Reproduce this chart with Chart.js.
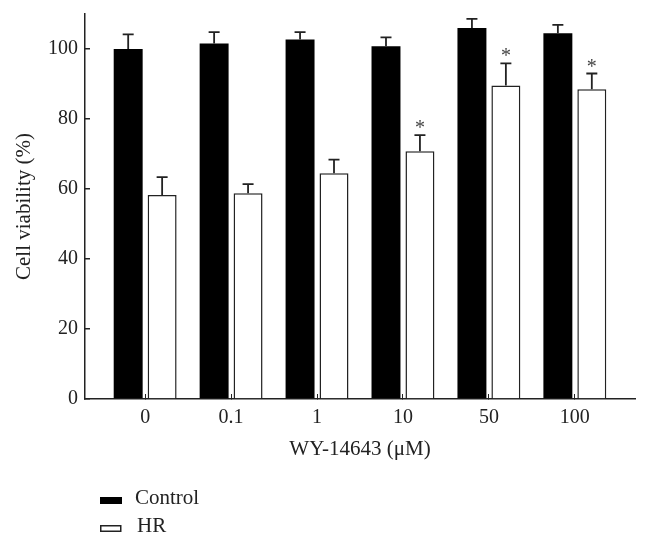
<!DOCTYPE html>
<html>
<head>
<meta charset="utf-8">
<script src="https://cdn.jsdelivr.net/npm/chart.js@4.4.0/dist/chart.umd.min.js"></script>
<style>
html,body{margin:0;padding:0;background:#fff;}
#wrap{width:649px;height:546px;position:relative;}
</style>
</head>
<body>
<div id="wrap"><canvas id="c" width="649" height="546"></canvas></div>
<script>
// ---- data ----
const categories = ['0', '0.1', '1', '10', '50', '100'];
const seriesNames = ['Control', 'HR'];
const controlValues = [100.0, 101.6, 102.7, 100.8, 106.0, 104.5];
const controlErrors = [4.2, 3.2, 2.1, 2.5, 2.6, 2.4];
const hrValues = [58.3, 58.8, 64.5, 70.8, 89.6, 88.5];
const hrErrors = [5.1, 2.6, 3.9, 4.6, 6.3, 4.5];
const hrSignificant = [false, false, false, true, true, true];
const yTickValues = [0, 20, 40, 60, 80, 100];
const xTitle = 'WY-14643 (\u03BCM)';
const yTitle = 'Cell viability (%)';

const FONT = "'Liberation Serif', 'Times New Roman', serif";
const INK = '#222';

const toPoints = vals => vals.map((v, i) => ({x: i, y: v}));

const errorBarPlugin = {
  id: 'errorBars',
  afterDatasetsDraw(chart) {
    const ctx = chart.ctx;
    const yScale = chart.scales.y;
    const errs = [controlErrors, hrErrors];
    const vals = [controlValues, hrValues];
    ctx.save();
    ctx.strokeStyle = INK;
    ctx.lineWidth = 1.8;
    chart.data.datasets.forEach((ds, di) => {
      const meta = chart.getDatasetMeta(di);
      meta.data.forEach((bar, i) => {
        const top = yScale.getPixelForValue(vals[di][i]);
        const capY = yScale.getPixelForValue(vals[di][i] + errs[di][i]);
        ctx.beginPath();
        ctx.moveTo(bar.x, top);
        ctx.lineTo(bar.x, capY);
        ctx.moveTo(bar.x - 5.5, capY);
        ctx.lineTo(bar.x + 5.5, capY);
        ctx.stroke();
        if (di === 1 && hrSignificant[i]) {
          ctx.fillStyle = '#444';
          ctx.font = '20px ' + FONT;
          ctx.textAlign = 'center';
          ctx.textBaseline = 'alphabetic';
          ctx.fillText('*', bar.x, capY - 1);
        }
      });
    });
    ctx.restore();
  }
};

const legendPlugin = {
  id: 'stackLegend',
  afterDraw(chart) {
    const ctx = chart.ctx;
    const x0 = 100, rows = [500.5, 528.5];
    ctx.save();
    ctx.font = '21px ' + FONT;
    ctx.textAlign = 'left';
    ctx.textBaseline = 'middle';
    chart.data.datasets.forEach((ds, di) => {
      const cy = rows[di];
      if (di === 0) {
        ctx.fillStyle = '#000';
        ctx.fillRect(x0, cy - 3.5, 22, 7);
      } else {
        ctx.fillStyle = '#fff';
        ctx.fillRect(x0, cy - 3.5, 21, 6);
        ctx.strokeStyle = INK;
        ctx.lineWidth = 1.5;
        ctx.strokeRect(x0 + 0.75, cy - 2.75, 20, 5.5);
      }
      ctx.fillStyle = INK;
      ctx.fillText(ds.label, x0 + 35 + (di === 1 ? 2 : 0), cy - 2);
    });
    ctx.restore();
  }
};

new Chart(document.getElementById('c'), {
  type: 'bar',
  data: {
    datasets: [
      {
        label: seriesNames[0],
        data: toPoints(controlValues),
        backgroundColor: '#000',
        borderWidth: 0,
        categoryPercentage: 0.79,
        barPercentage: 0.853
      },
      {
        label: seriesNames[1],
        data: toPoints(hrValues),
        backgroundColor: '#fff',
        borderColor: INK,
        borderWidth: 1.5,
        categoryPercentage: 0.79,
        barPercentage: 0.853
      }
    ]
  },
  options: {
    responsive: false,
    animation: false,
    devicePixelRatio: 1,
    layout: {padding: {left: 0, right: 14, top: 14, bottom: 77}},
    plugins: {
      legend: {display: false},
      tooltip: {enabled: false}
    },
    scales: {
      x: {
        type: 'linear',
        min: -0.7,
        max: 5.7,
        offset: false,
        afterFit: s => { s.height = 70; s.paddingLeft = 0; s.paddingRight = 0; },
        afterBuildTicks: s => { s.ticks = categories.map((c, i) => ({value: i})); },
        ticks: {
          stepSize: 1,
          includeBounds: false,
          padding: 12,
          color: INK,
          font: {family: FONT, size: 20},
          callback: v => categories[v]
        },
        grid: {drawOnChartArea: false, drawTicks: true, tickLength: -5, color: INK, lineWidth: 1, offset: false},
        border: {display: true, color: INK, width: 1.5},
        title: {display: true, text: xTitle, color: INK, font: {family: FONT, size: 21}, padding: {top: 0, bottom: 7}}
      },
      y: {
        min: 0,
        max: 110,
        afterFit: s => { s.width = 85; s.paddingTop = 0; s.paddingBottom = 0; },
        afterBuildTicks: s => { s.ticks = yTickValues.map(v => ({value: v})); },
        ticks: {
          stepSize: 20,
          includeBounds: false,
          padding: 12,
          color: INK,
          font: {family: FONT, size: 20}
        },
        grid: {drawOnChartArea: false, drawTicks: true, tickLength: -5, color: INK, lineWidth: 1.5},
        border: {display: true, color: INK, width: 1.5},
        title: {display: true, text: yTitle, color: INK, font: {family: FONT, size: 21}, padding: {top: 12, bottom: 0}}
      }
    }
  },
  plugins: [errorBarPlugin, legendPlugin]
});
</script>
</body>
</html>
